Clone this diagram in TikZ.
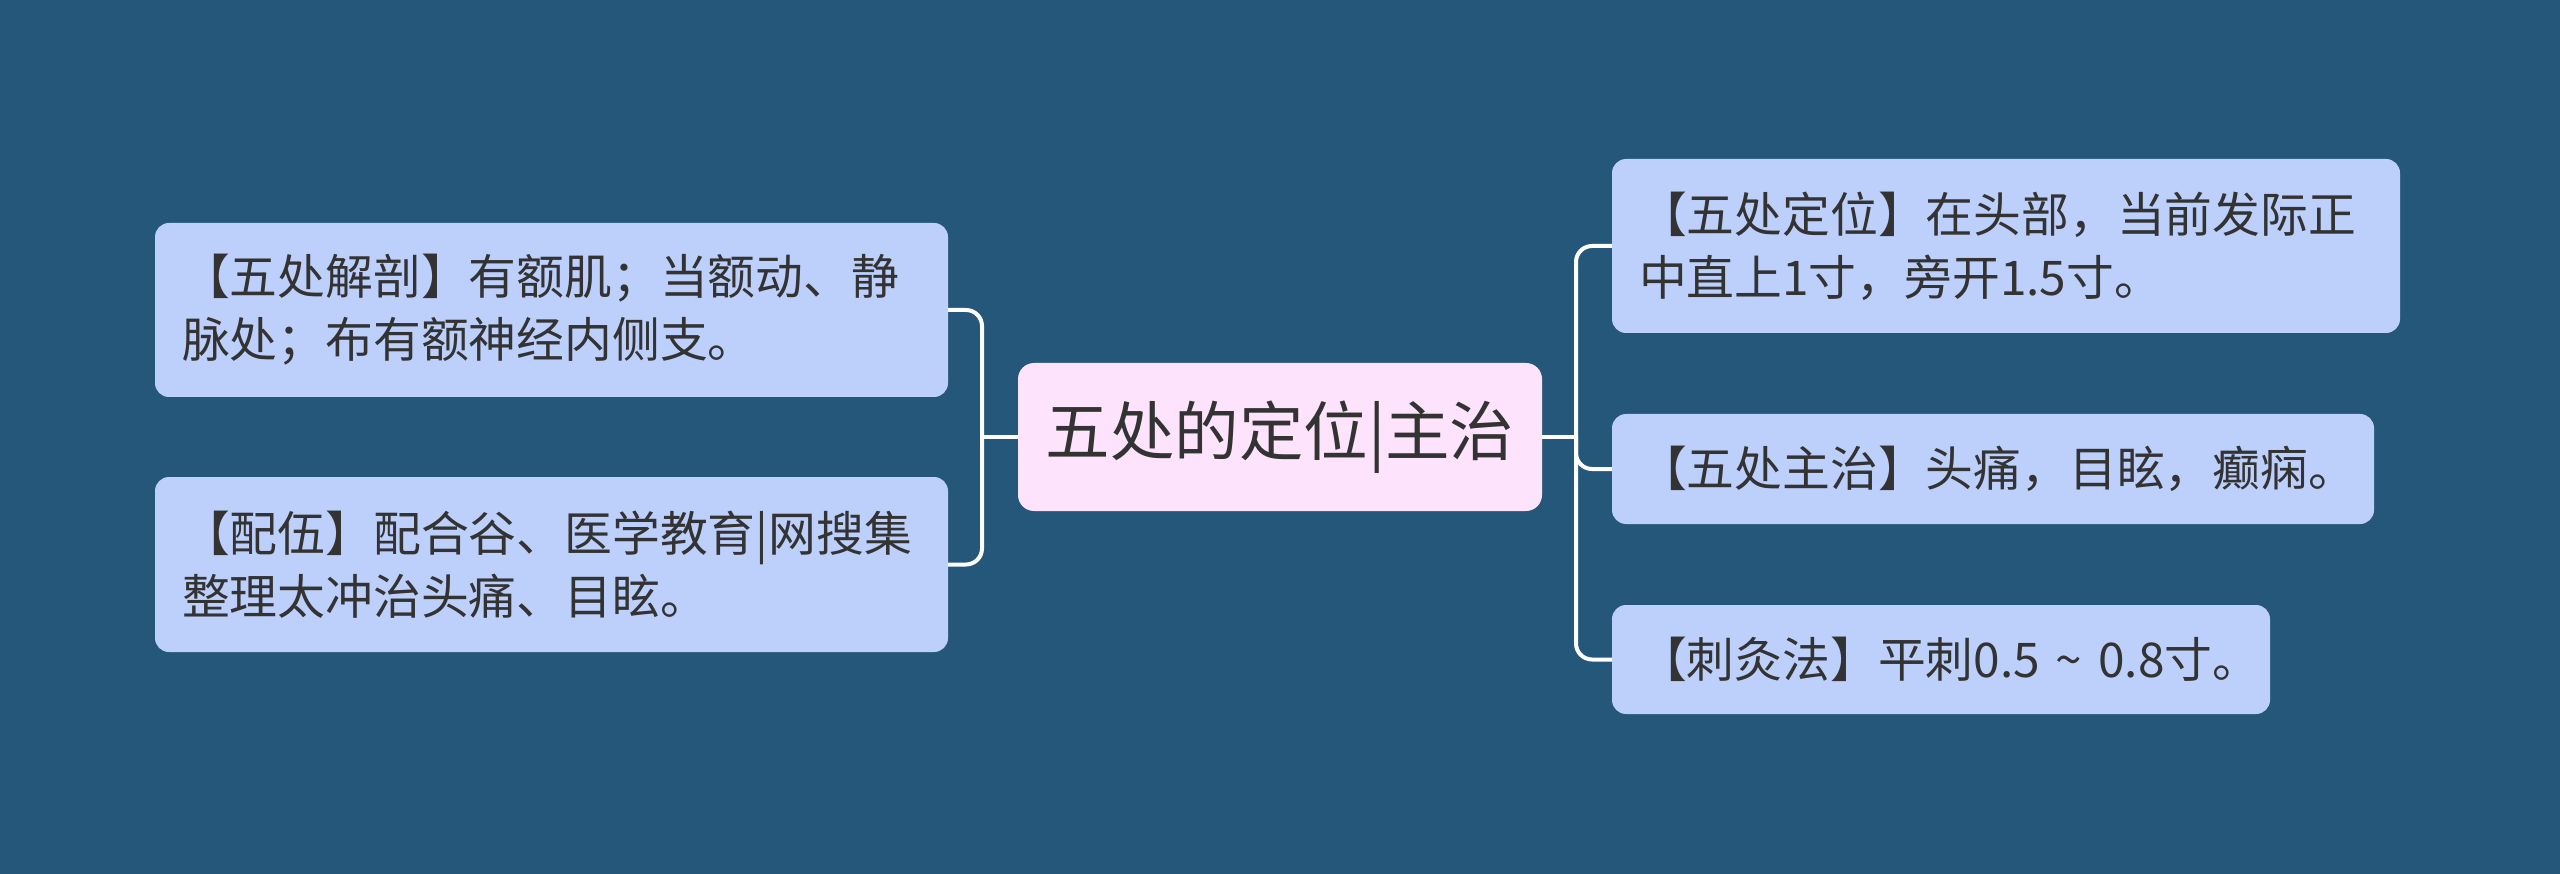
\documentclass[tikz,border=0pt]{standalone}
\usepackage{fontspec}
\setmainfont{Noto Sans CJK SC}
\definecolor{bg}{HTML}{245779}
\definecolor{leaf}{HTML}{BDD0FC}
\definecolor{rootc}{HTML}{FDE3FB}
\definecolor{txt}{HTML}{333333}
\begin{document}
\begin{tikzpicture}[x=1pt,y=-1pt,
  leafbox/.style={fill=leaf, rounded corners=14pt, inner xsep=27pt, inner ysep=0pt,
    align=left, text=txt, font=\fontsize{47.8pt}{63pt}\selectfont, anchor=center},
  rootbox/.style={fill=rootc, rounded corners=16pt, inner sep=0pt, text=txt,
    font=\fontsize{64.5pt}{70pt}\selectfont, minimum width=524pt, minimum height=148pt, anchor=center},
  conn/.style={draw=white, line width=4pt},
  branch/.style={conn, rounded corners=16pt}]
\useasboundingbox (0,0) rectangle (2560,874);
\fill[bg] (0,0) rectangle (2560,874);

\node[rootbox] (C) at (1280,437) {五处的定位|主治};

\node[leafbox, text width=739pt, minimum height=174pt] (L1) at (551.5,310)
  {【五处解剖】有额肌；当额动、静\\脉处；布有额神经内侧支。};
\node[leafbox, text width=739pt, minimum height=175pt] (L2) at (551.5,564.5)
  {【配伍】配合谷、医学教育|网搜集\\整理太冲治头痛、目眩。};

\node[leafbox, text width=734pt, minimum height=174pt] (R1) at (2006,246)
  {【五处定位】在头部，当前发际正\\中直上1寸，旁开1.5寸。};
\node[leafbox, text width=708pt, minimum height=110pt] (R2) at (1993,469)
  {【五处主治】头痛，目眩，癫痫。};
\node[leafbox, text width=604pt, minimum height=109pt] (R3) at (1941,659.5)
  {\mbox{【刺灸法】平刺0.5 \textasciitilde{} 0.8寸。}};

\coordinate (jl) at (982,437);
\coordinate (jr) at (1576,437);

\draw[conn] (C.west) -- (jl);
\draw[branch] (jl) |- (L1.east);
\draw[branch] (jl) |- (L2.east);

\draw[conn] (C.east) -- (jr);
\draw[branch] (jr) |- (R1.west);
\draw[branch] (jr) |- (R2.west);
\draw[branch] (jr) |- (R3.west);
\end{tikzpicture}
\end{document}
